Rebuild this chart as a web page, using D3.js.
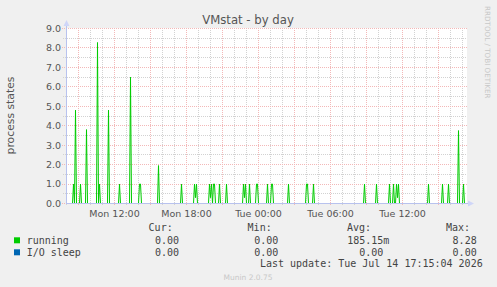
<!DOCTYPE html>
<html><head><meta charset="utf-8">
<script src="https://cdn.jsdelivr.net/npm/d3@7"></script>
<style>
html,body{margin:0;padding:0;background:#f0f0f0;}
svg{display:block;}
</style></head>
<body>
<script>
// ---- data ----
const title = "VMstat - by day";
const yLabel = "process states";
const yTicks = [0, 1, 2, 3, 4, 5, 6, 7, 8, 9];
const xTickLabels = ["Mon 12:00", "Mon 18:00", "Tue 00:00", "Tue 06:00", "Tue 12:00"];
const seriesNames = ["running", "I/O sleep"];
const seriesColors = ["#00cc00", "#0066b3"];
const curValues = ["0.00", "0.00"];
const minValues = ["0.00", "0.00"];
const avgValues = ["185.15m", "0.00"];
const maxValues = ["8.28", "0.00"];
const lastUpdate = "Last update: Tue Jul 14 17:15:04 2026";
const windowStart = "2026-07-13 08:00";   // first 5-minute sample
const windowEnd = "2026-07-14 17:15";     // last 5-minute sample
// non-zero 5-minute samples of "running" (all other samples read as 0)
const runningTimes = [
  "2026-07-13 08:35","2026-07-13 08:45","2026-07-13 09:10","2026-07-13 09:40",
  "2026-07-13 10:35","2026-07-13 10:45","2026-07-13 11:30","2026-07-13 12:25",
  "2026-07-13 13:20","2026-07-13 14:05","2026-07-13 14:10","2026-07-13 15:40",
  "2026-07-13 17:35","2026-07-13 18:40","2026-07-13 18:45","2026-07-13 18:50",
  "2026-07-13 19:55","2026-07-13 20:00","2026-07-13 20:05","2026-07-13 20:15",
  "2026-07-13 20:20","2026-07-13 20:45","2026-07-13 21:20","2026-07-13 22:45",
  "2026-07-13 22:50","2026-07-13 22:55","2026-07-13 23:15","2026-07-13 23:50",
  "2026-07-13 23:55","2026-07-14 00:45","2026-07-14 01:05","2026-07-14 01:10",
  "2026-07-14 02:30","2026-07-14 04:00","2026-07-14 04:05","2026-07-14 04:35",
  "2026-07-14 08:50","2026-07-14 09:50","2026-07-14 10:55","2026-07-14 11:15",
  "2026-07-14 11:30","2026-07-14 11:35","2026-07-14 11:40","2026-07-14 14:10",
  "2026-07-14 15:20","2026-07-14 15:50","2026-07-14 16:40","2026-07-14 17:05"
];
const runningValues = [
  1.0, 4.8, 1.0, 3.8,
  8.28, 1.0, 4.8, 1.0,
  6.5, 1.0, 1.0, 1.95,
  1.0, 1.0, 0.3, 1.0,
  1.0, 0.3, 1.0, 1.0,
  1.0, 1.0, 1.0, 1.0,
  0.3, 1.0, 1.0, 1.0,
  1.0, 1.0, 1.0, 1.0,
  1.0, 1.0, 1.0, 1.0,
  1.0, 1.0, 1.0, 1.0,
  1.0, 0.3, 1.0, 1.0,
  1.0, 1.0, 3.75, 1.0
];
const ioSleepTimes = [];
const ioSleepValues = [];

// ---- build ----
const W = 497, H = 287;
const parse = d3.timeParse("%Y-%m-%d %H:%M");
const t0 = parse(windowStart), t1 = parse(windowEnd);
const samples = d3.timeMinute.every(5).range(t0, d3.timeMinute.offset(t1, 1));
function series(times, values) {
  const m = new Map(times.map((t, i) => [+parse(t), values[i]]));
  return samples.map(t => ({t, v: m.has(+t) ? m.get(+t) : 0}));
}
const running = series(runningTimes, runningValues);
const ioSleep = series(ioSleepTimes, ioSleepValues);

const L = 66, R = 466, T = 28.5, B = 203.5;
const x = d3.scaleTime()
  .domain([d3.timeSecond.offset(t0, -150), d3.timeSecond.offset(t1, 150)])
  .range([L, R]);
const y = d3.scaleLinear().domain([0, 9]).range([B, T]);

const svg = d3.select("body").append("svg").attr("width", W).attr("height", H)
  .style("font-family", "'DejaVu Sans', sans-serif");
svg.append("rect").attr("width", W).attr("height", H).attr("fill", "#f0f0f0");
svg.append("rect").attr("x", L).attr("y", 28).attr("width", R - L + 1).attr("height", 176).attr("fill", "#ffffff");

const minorColor = "#d2d2d2", majorColor = "#f3b8b8";
const g = svg.append("g");
// minor vertical grid: hourly
const hours = x.ticks(d3.timeHour.every(1));
const major3 = x.ticks(d3.timeHour.every(3)).map(d => +d);
hours.filter(d => !major3.includes(+d)).forEach(d => {
  const xx = Math.round(x(d) - 0.5) + 0.5;
  g.append("line").attr("x1", xx).attr("x2", xx).attr("y1", 28).attr("y2", 205)
    .attr("stroke", minorColor).attr("stroke-dasharray", "1,1");
});
// minor horizontal grid at halves
d3.range(0.5, 9, 1).forEach(v => {
  const yy = Math.round(y(v) - 0.5) + 0.5;
  g.append("line").attr("x1", 63).attr("x2", R + 1).attr("y1", yy).attr("y2", yy)
    .attr("stroke", minorColor).attr("stroke-dasharray", "1,1");
});
// major grid
x.ticks(d3.timeHour.every(3)).forEach(d => {
  const xx = Math.round(x(d) - 0.5) + 0.5;
  g.append("line").attr("x1", xx).attr("x2", xx).attr("y1", 28).attr("y2", 206)
    .attr("stroke", majorColor).attr("stroke-dasharray", "1,1");
});
yTicks.forEach(v => {
  const yy = Math.round(y(v) - 0.5) + 0.5;
  g.append("line").attr("x1", 62).attr("x2", R + 1).attr("y1", yy).attr("y2", yy)
    .attr("stroke", majorColor).attr("stroke-dasharray", "1,1");
});

// data lines
const line = d3.line().x(d => x(d.t)).y(d => y(d.v));
svg.append("path").datum(ioSleep).attr("d", line).attr("fill", "none")
  .attr("stroke", seriesColors[1]).attr("stroke-width", 1);
svg.append("path").datum(running).attr("d", line).attr("fill", "none")
  .attr("stroke", seriesColors[0]).attr("stroke-width", 1);

// axes
const axisColor = "#b8c2ee";
svg.append("line").attr("x1", L + 0.5).attr("x2", L + 0.5).attr("y1", 24).attr("y2", 204)
  .attr("stroke", axisColor);
svg.append("line").attr("x1", L).attr("x2", 470).attr("y1", B).attr("y2", B)
  .attr("stroke", axisColor).attr("stroke-width", 1.2);
svg.append("path").attr("d", `M${L - 2.5},26 L${L + 3.5},26 L${L + 0.5},20 Z`).attr("fill", "#cfd6f8");
svg.append("path").attr("d", `M468,${B - 3} L468,${B + 3} L474,${B} Z`).attr("fill", "#cfd6f8");

// y tick labels
yTicks.forEach(v => {
  svg.append("text").attr("x", 61).attr("y", y(v)).attr("dy", "0.36em")
    .attr("text-anchor", "end").attr("font-size", 9.5).attr("fill", "#555")
    .text(d3.format(".1f")(v));
});
// x tick labels
const sixH = x.ticks(d3.timeHour.every(6));
const fmt = d3.timeFormat("%a %H:%M");
sixH.forEach(d => {
  const lab = fmt(d);
  if (!xTickLabels.includes(lab)) return;
  svg.append("text").attr("x", x(d)).attr("y", 216.5).attr("text-anchor", "middle")
    .attr("font-size", 9.5).attr("fill", "#555").text(lab);
});

// title & labels
svg.append("text").attr("x", 248).attr("y", 24).attr("text-anchor", "middle")
  .attr("font-size", 11.7).attr("fill", "#555").text(title);
svg.append("text").attr("transform", "translate(13.5,115.5) rotate(-90)")
  .attr("text-anchor", "middle").attr("font-size", 10.8).attr("fill", "#555").text(yLabel);
svg.append("text").attr("transform", "translate(485,6) rotate(90)")
  .attr("text-anchor", "start").attr("font-size", 7.2).attr("fill", "#c8c8c8")
  .text("RRDTOOL / TOBI OETIKER");

// legend
const mono = "'DejaVu Sans Mono', monospace";
const lg = svg.append("g").style("font-family", mono).attr("font-size", 10).attr("fill", "#444");
[["Cur:", 172.7], ["Min:", 271.7], ["Avg:", 371], ["Max:", 470]].forEach(([t, xx]) => {
  lg.append("text").attr("x", xx).attr("y", 231).attr("text-anchor", "end").text(t);
});
seriesNames.forEach((name, i) => {
  const yy = 243.6 + i * 12;
  svg.append("rect").attr("x", 14).attr("y", yy - 6.3).attr("width", 6).attr("height", 6)
    .attr("fill", seriesColors[i]);
  lg.append("text").attr("x", 26.7).attr("y", yy).text(name);
  const vals = [curValues[i], minValues[i], avgValues[i], maxValues[i]];
  const ends = [185, 284.3, 389.3, 482.7];
  vals.forEach((v, k) => {
    const suffixed = /[a-zA-Z]$/.test(v);
    lg.append("text").attr("x", ends[k] - (suffixed ? 0 : 6)).attr("y", yy)
      .attr("text-anchor", "end").text(v);
  });
});
lg.append("text").attr("x", 482.7).attr("y", 267.3).attr("text-anchor", "end").text(lastUpdate);
svg.append("text").attr("x", 248).attr("y", 279.5).attr("text-anchor", "middle")
  .attr("font-size", 7.5).attr("fill", "#c8c8c8").text("Munin 2.0.75");
</script>
</body></html>
